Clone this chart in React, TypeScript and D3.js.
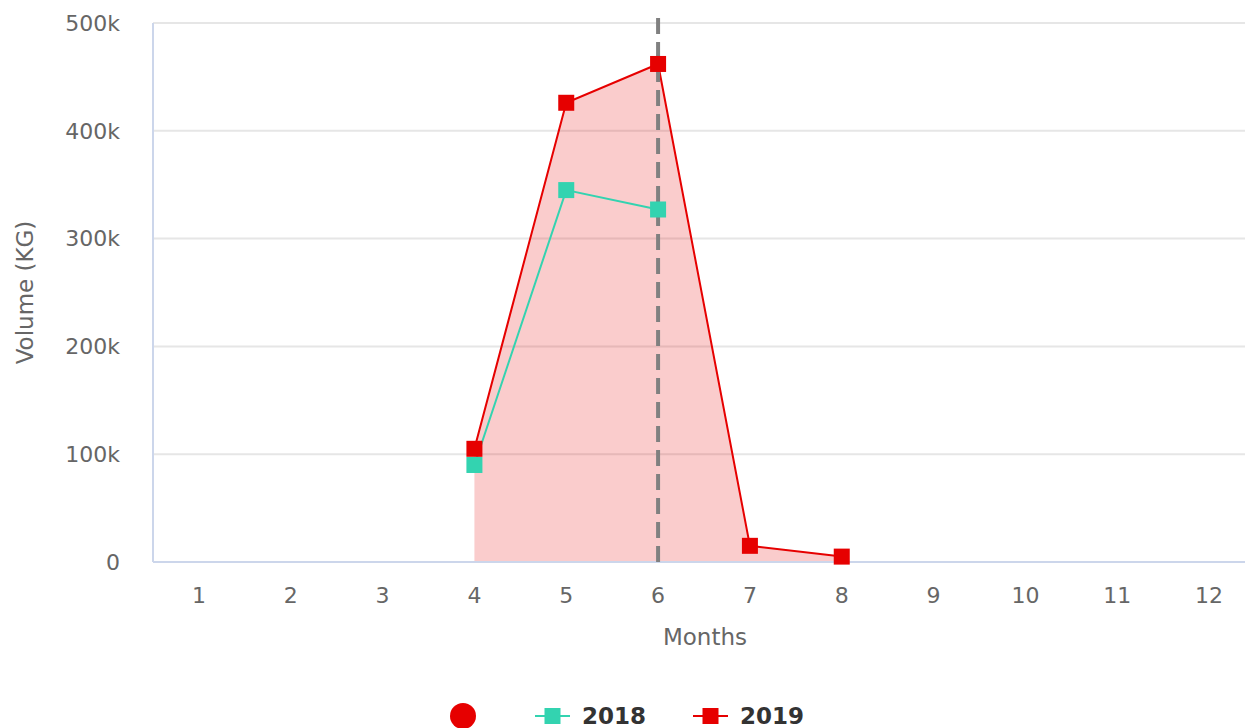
import { useEffect } from 'react';
import * as d3 from 'd3';

const WIDTH = 1245;
const HEIGHT = 728;
const MARGIN = { top: 23, right: -10, bottom: 166, left: 153 };
const RED = '#e60000';
const TEAL = '#33d3b0';
const FONT = '"DejaVu Sans", Verdana, sans-serif';

const months = ['1', '2', '3', '4', '5', '6', '7', '8', '9', '10', '11', '12'];
const vol2018: (number | null)[] = [null, null, null, 90000, 345000, 327000, null, null, null, null, null, null];
const vol2019: (number | null)[] = [null, null, null, 105000, 426000, 462000, 15000, 5000, null, null, null, null];
const yTicks = [0, 100000, 200000, 300000, 400000, 500000];
const markerMonth = '6';

type Pt = { m: string; v: number };

export default function App() {
  useEffect(() => {
    document.body.style.margin = '0';
  }, []);

  const x = d3.scaleBand<string>()
    .domain(months)
    .range([MARGIN.left, WIDTH - MARGIN.right]);
  const cx = (m: string) => (x(m) ?? 0) + x.bandwidth() / 2;
  const y = d3.scaleLinear()
    .domain([0, 500000])
    .range([HEIGHT - MARGIN.bottom, MARGIN.top]);

  const pts = (arr: (number | null)[]): Pt[] =>
    arr.map((v, i) => ({ m: months[i], v: v as number })).filter(d => d.v != null);

  const s2018 = pts(vol2018);
  const s2019 = pts(vol2019);

  const line = d3.line<Pt>().x(d => cx(d.m)).y(d => y(d.v));
  const area = d3.area<Pt>().x(d => cx(d.m)).y0(y(0)).y1(d => y(d.v));

  const fmt = (v: number) => (v === 0 ? '0' : `${v / 1000}k`);
  const sq = 16;

  return (
    <svg width={WIDTH} height={HEIGHT} style={{ display: 'block', fontFamily: FONT }}>
      <rect width={WIDTH} height={HEIGHT} fill="#fff" />

      {/* grid */}
      {yTicks.filter(t => t > 0).map(t => (
        <line key={t} x1={MARGIN.left} x2={WIDTH} y1={y(t)} y2={y(t)} stroke="#e6e6e6" strokeWidth={2} />
      ))}

      {/* y labels */}
      {yTicks.map(t => (
        <text key={t} x={120} y={y(t)} dy="0.35em" textAnchor="end" fill="#666" fontSize={22}>
          {fmt(t)}
        </text>
      ))}

      {/* 2019 area */}
      <path d={area(s2019) ?? ''} fill={RED} fillOpacity={0.2} />

      {/* axes */}
      <line x1={MARGIN.left} x2={MARGIN.left} y1={MARGIN.top} y2={y(0)} stroke="#ccd6eb" strokeWidth={2} />
      <line x1={MARGIN.left} x2={WIDTH} y1={y(0)} y2={y(0)} stroke="#ccd6eb" strokeWidth={2} />

      {/* x labels */}
      {months.map(m => (
        <text key={m} x={cx(m)} y={595} dy="0.35em" textAnchor="middle" fill="#666" fontSize={22}>
          {m}
        </text>
      ))}

      <text x={705} y={637} dy="0.35em" textAnchor="middle" fill="#666" fontSize={23}>Months</text>
      <text transform={`translate(25,${(MARGIN.top + y(0)) / 2}) rotate(-90)`} dy="0.35em" textAnchor="middle" fill="#666" fontSize={23}>
        Volume (KG)
      </text>

      {/* lines */}
      <path d={line(s2018) ?? ''} fill="none" stroke={TEAL} strokeWidth={2} />
      <path d={line(s2019) ?? ''} fill="none" stroke={RED} strokeWidth={2} />

      {/* dashed marker */}
      <line x1={cx(markerMonth)} x2={cx(markerMonth)} y1={18} y2={y(0)} stroke="#808080" strokeWidth={4} strokeDasharray="16,8" />

      {s2018.map(d => (
        <rect key={'a' + d.m} x={cx(d.m) - sq / 2} y={y(d.v) - sq / 2} width={sq} height={sq} fill={TEAL} />
      ))}
      {s2019.map(d => (
        <rect key={'b' + d.m} x={cx(d.m) - sq / 2} y={y(d.v) - sq / 2} width={sq} height={sq} fill={RED} />
      ))}

      {/* legend */}
      <circle cx={463} cy={716} r={13} fill={RED} />
      <g transform="translate(535,716)">
        <line x1={0} x2={35} stroke={TEAL} strokeWidth={2} />
        <rect x={17.5 - sq / 2} y={-sq / 2} width={sq} height={sq} fill={TEAL} />
        <text x={47} dy="0.35em" fill="#333" fontSize={23} fontWeight="bold">2018</text>
      </g>
      <g transform="translate(693,716)">
        <line x1={0} x2={35} stroke={RED} strokeWidth={2} />
        <rect x={17.5 - sq / 2} y={-sq / 2} width={sq} height={sq} fill={RED} />
        <text x={47} dy="0.35em" fill="#333" fontSize={23} fontWeight="bold">2019</text>
      </g>
    </svg>
  );
}
